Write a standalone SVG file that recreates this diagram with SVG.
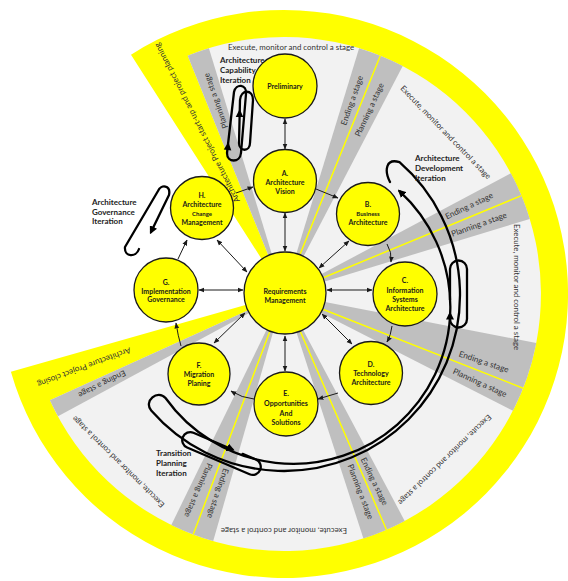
<svg xmlns="http://www.w3.org/2000/svg" width="568" height="581" viewBox="0 0 568 581">
<defs>
<style>
.yl{fill:#ffff00}
.lt{fill:#f2f2f2}
.gr{fill:#bfbfbf}
.yline{stroke:#ffff00;stroke-width:1.5;fill:none}
.node circle{fill:#ffff00;stroke:#1a1a1a;stroke-width:1.3}
.nt{font-family:Lato,"Liberation Sans",sans-serif;font-weight:bold;font-size:7px;fill:#1a1a1a;text-anchor:middle;dominant-baseline:central}
.sm{font-size:6px}
.tx{font-family:Lato,"Liberation Sans",sans-serif;font-size:8.2px;fill:#333;text-anchor:middle;dominant-baseline:central}
.ex{font-size:7.9px}
.con{stroke:#1a1a1a;stroke-width:1;fill:none}
.it{stroke:#000;stroke-width:2.3;fill:none;stroke-linecap:round;stroke-linejoin:round}
.lab{font-family:Lato,"Liberation Sans",sans-serif;font-weight:bold;font-size:8px;fill:#222;dominant-baseline:central}
</style>
<marker id="a" viewBox="0 0 10 10" refX="9" refY="5" markerWidth="6" markerHeight="6" markerUnits="userSpaceOnUse" orient="auto-start-reverse"><path d="M0,1 L10,5 L0,9 Z" fill="#1a1a1a"/></marker>
<marker id="b" viewBox="0 0 10 10" refX="7" refY="5" markerWidth="8" markerHeight="8" markerUnits="userSpaceOnUse" orient="auto"><path d="M0,0 L10,5 L0,10 Z" fill="#000"/></marker>
<path id="tri" d="M4,0 L-4,-3.8 L-4,3.8 Z" fill="#000"/>
</defs>
<rect width="568" height="581" fill="#fff"/>
<g id="background">
<path class="yl" d="M284,294 L131.0,54.7 A284,284 0 1 1 10.9,371.8 Z"/>
<path class="lt" d="M284,294 L187.7,55.7 A257,257 0 1 1 49.9,400.2 Z"/>
<path class="gr" d="M284,294 L187.7,55.7 A257,257 0 0 1 208.9,48.2 Z"/>
<path class="gr" d="M284,294 L359.1,48.2 A257,257 0 0 1 402.7,66.0 Z"/>
<path class="gr" d="M284,294 L510.9,173.3 A257,257 0 0 1 529.8,218.9 Z"/>
<path class="gr" d="M284,294 L536.3,343.0 A257,257 0 0 1 513.0,410.7 Z"/>
<path class="gr" d="M284,294 L404.7,520.9 A257,257 0 0 1 363.4,538.4 Z"/>
<path class="gr" d="M284,294 L213.2,541.1 A257,257 0 0 1 171.3,525.0 Z"/>
<path class="gr" d="M284,294 L58.0,416.2 A257,257 0 0 1 49.9,400.2 Z"/>
<path class="yline" d="M284,294 L380.3,55.7 M284,294 L521.4,195.6 M284,294 L523.1,388.2 M284,294 L386.5,529.7 M284,294 L193.2,534.4"/>
</g>
<g id="band-labels">
<text class="tx" transform="translate(196.8,122.9) rotate(-117)" font-size="7.8">Architecture Project start-up and project planning</text>
<text class="tx" transform="translate(84.1,367.5) rotate(159.5)">Architecture Project closing</text>
<text class="tx" transform="translate(215.6,100.8) rotate(-109.5)">Planning a stage</text>
<text class="tx ex" transform="translate(291,47)">Execute, monitor and control a stage</text>
<text class="tx" transform="translate(351.8,100.5) rotate(-70.7)">Ending a stage</text>
<text class="tx" transform="translate(369.2,109.7) rotate(-65.2)">Planning a stage</text>
<text class="tx ex" transform="translate(445.9,132.1) rotate(46)">Execute, monitor and control a stage</text>
<text class="tx" transform="translate(469.0,205.7) rotate(-25.5)">Ending a stage</text>
<text class="tx" transform="translate(478.9,224.2) rotate(-19.7)">Planning a stage</text>
<text class="tx ex" transform="translate(517,287) rotate(90)">Execute, monitor and control a stage</text>
<text class="tx" transform="translate(483.9,361.6) rotate(18.7)">Ending a stage</text>
<text class="tx" transform="translate(480.0,382.5) rotate(24.3)">Planning a stage</text>
<text class="tx ex" transform="translate(445,460) rotate(136)">Execute, monitor and control a stage</text>
<text class="tx" transform="translate(374.5,481.3) rotate(64.2)">Ending a stage</text>
<text class="tx" transform="translate(360.7,491.6) rotate(68.8)">Planning a stage</text>
<text class="tx ex" transform="translate(284,531) rotate(180)">Execute, monitor and control a stage</text>
<text class="tx" transform="translate(218.1,493.4) rotate(108.3)">Ending a stage</text>
<text class="tx" transform="translate(198.7,490.3) rotate(113.5)">Planning a stage</text>
<text class="tx ex" transform="translate(118,462) rotate(224.7)">Execute, monitor and control a stage</text>
<text class="tx" transform="translate(102.2,384.3) rotate(153.6)">Ending a stage</text>
</g>
<g id="iterations">
<path class="it" d="M234,92 C236,83 247,84 246,94 L241,153 C240,163 227,163 227,153 Z"/>
<path class="it" d="M240,100 C241,89 253,89 253,100 L250,143 C250,152 239,152 239,143 Z"/>
<use href="#tri" transform="translate(228,146) rotate(-83.5)"/>
<use href="#tri" transform="translate(239.6,113) rotate(-88.7)"/>
<path class="it" d="M139,249 C136,258 124,257 125,247 L158,191 C161,184 171,185 169,195 L151,232" marker-end="url(#b)"/>
<path class="it" d="M390,182 C384,170 386,158 399.5,162.2 A176,176 0 1 1 151.2,410.5 C143.3,401.4 157.6,388.9 165.5,398.0 A157,157 0 1 0 399.5,191.2" marker-end="url(#b)"/>
<path class="it" d="M450,300 L450,269 A8.5,8.5 0 0 1 467,269 L467,319 A8.5,8.5 0 0 1 450,319 L450,314" marker-end="url(#b)"/>
<path class="it" transform="rotate(23.2 221.5 453.5)" d="M241,445.5 L255.5,445.5 A8,8 0 0 1 255.5,461.5 L187.5,461.5 A8,8 0 0 1 187.5,445.5 L230,445.5" marker-end="url(#b)"/>
<text class="lab" x="220" y="60">Architecture</text>
<text class="lab" x="220" y="70">Capability</text>
<text class="lab" x="220" y="80">Iteration</text>
<text class="lab" x="415" y="158">Architecture</text>
<text class="lab" x="415" y="168">Development</text>
<text class="lab" x="415" y="178">Iteration</text>
<text class="lab" x="92" y="202">Architecture</text>
<text class="lab" x="92" y="212" font-size="6.8">Governance</text>
<text class="lab" x="92" y="221" font-size="7">Iteration</text>
<text class="lab" x="156" y="453" font-size="7.5">Transition</text>
<text class="lab" x="156" y="463" font-size="7.5">Planning</text>
<text class="lab" x="156" y="473" font-size="7">Iteration</text>
</g>
<g id="connectors">
<path class="con" d="M285,119 L285,149" marker-start="url(#a)" marker-end="url(#a)"/>
<path class="con" d="M285,213 L285,251" marker-start="url(#a)" marker-end="url(#a)"/>
<path class="con" d="M316,189 L338,198" marker-end="url(#a)"/>
<path class="con" d="M236,193 L253,187" marker-end="url(#a)"/>
<path class="con" d="M387,244 Q392,252 391,262" marker-end="url(#a)"/>
<path class="con" d="M349,241 L319,268" marker-start="url(#a)" marker-end="url(#a)"/>
<path class="con" d="M327,290 L372,290" marker-start="url(#a)" marker-end="url(#a)"/>
<path class="con" d="M392,326 Q391,335 387,342" marker-end="url(#a)"/>
<path class="con" d="M322,314 L352,344" marker-start="url(#a)" marker-end="url(#a)"/>
<path class="con" d="M338,393 L318,399" marker-end="url(#a)"/>
<path class="con" d="M285,336 L285,371" marker-start="url(#a)" marker-end="url(#a)"/>
<path class="con" d="M254,399 Q242,398 231,391" marker-end="url(#a)"/>
<path class="con" d="M214,343 L245,313" marker-start="url(#a)" marker-end="url(#a)"/>
<path class="con" d="M181,346 Q178,336 176,323" marker-end="url(#a)"/>
<path class="con" d="M199,290 L243,290" marker-start="url(#a)" marker-end="url(#a)"/>
<path class="con" d="M178,259 L187,240" marker-end="url(#a)"/>
<path class="con" d="M217,240 L247,272" marker-start="url(#a)" marker-end="url(#a)"/>
</g>
<g id="preliminary" class="node"><circle cx="285" cy="86" r="32"/><text class="nt" x="285" y="86" font-size="7.8">Preliminary</text></g>
<g id="node-a" class="node"><circle cx="285" cy="181" r="31.5"/><text class="nt" x="285" y="173">A.</text><text class="nt" x="285" y="182">Architecture</text><text class="nt" x="285" y="191">Vision</text></g>
<g id="node-b" class="node"><circle cx="368" cy="214" r="31.5"/><text class="nt" x="368" y="204">B.</text><text class="nt sm" x="368" y="213">Business</text><text class="nt" x="368" y="222">Architecture</text></g>
<g id="node-c" class="node"><circle cx="405" cy="294" r="32"/><text class="nt" x="405" y="280">C.</text><text class="nt" x="405" y="290">Information</text><text class="nt" x="405" y="299">Systems</text><text class="nt" x="405" y="308">Architecture</text></g>
<g id="node-d" class="node"><circle cx="371" cy="373" r="31.5"/><text class="nt" x="371" y="364">D.</text><text class="nt" x="371" y="373">Technology</text><text class="nt" x="371" y="382">Architecture</text></g>
<g id="node-e" class="node"><circle cx="286" cy="404" r="32"/><text class="nt" x="286" y="393">E.</text><text class="nt" x="286" y="403">Opportunities</text><text class="nt" x="286" y="413">And</text><text class="nt" x="286" y="422">Solutions</text></g>
<g id="node-f" class="node"><circle cx="199" cy="374" r="31"/><text class="nt" x="199" y="365">F.</text><text class="nt" x="199" y="374">Migration</text><text class="nt" x="199" y="383">Planing</text></g>
<g id="node-g" class="node"><circle cx="166" cy="290" r="32"/><text class="nt" x="166" y="282">G.</text><text class="nt" x="166" y="290.5">Implementation</text><text class="nt" x="166" y="299">Governance</text></g>
<g id="node-h" class="node"><circle cx="202" cy="208" r="31.5"/><text class="nt" x="202" y="195">H.</text><text class="nt" x="202" y="204">Architecture</text><text class="nt sm" x="202" y="213">Change</text><text class="nt" x="202" y="222">Management</text></g>
<g id="requirements" class="node"><circle cx="285" cy="293" r="41"/><text class="nt" x="285" y="291">Requirements</text><text class="nt" x="285" y="300">Management</text></g>
</svg>
